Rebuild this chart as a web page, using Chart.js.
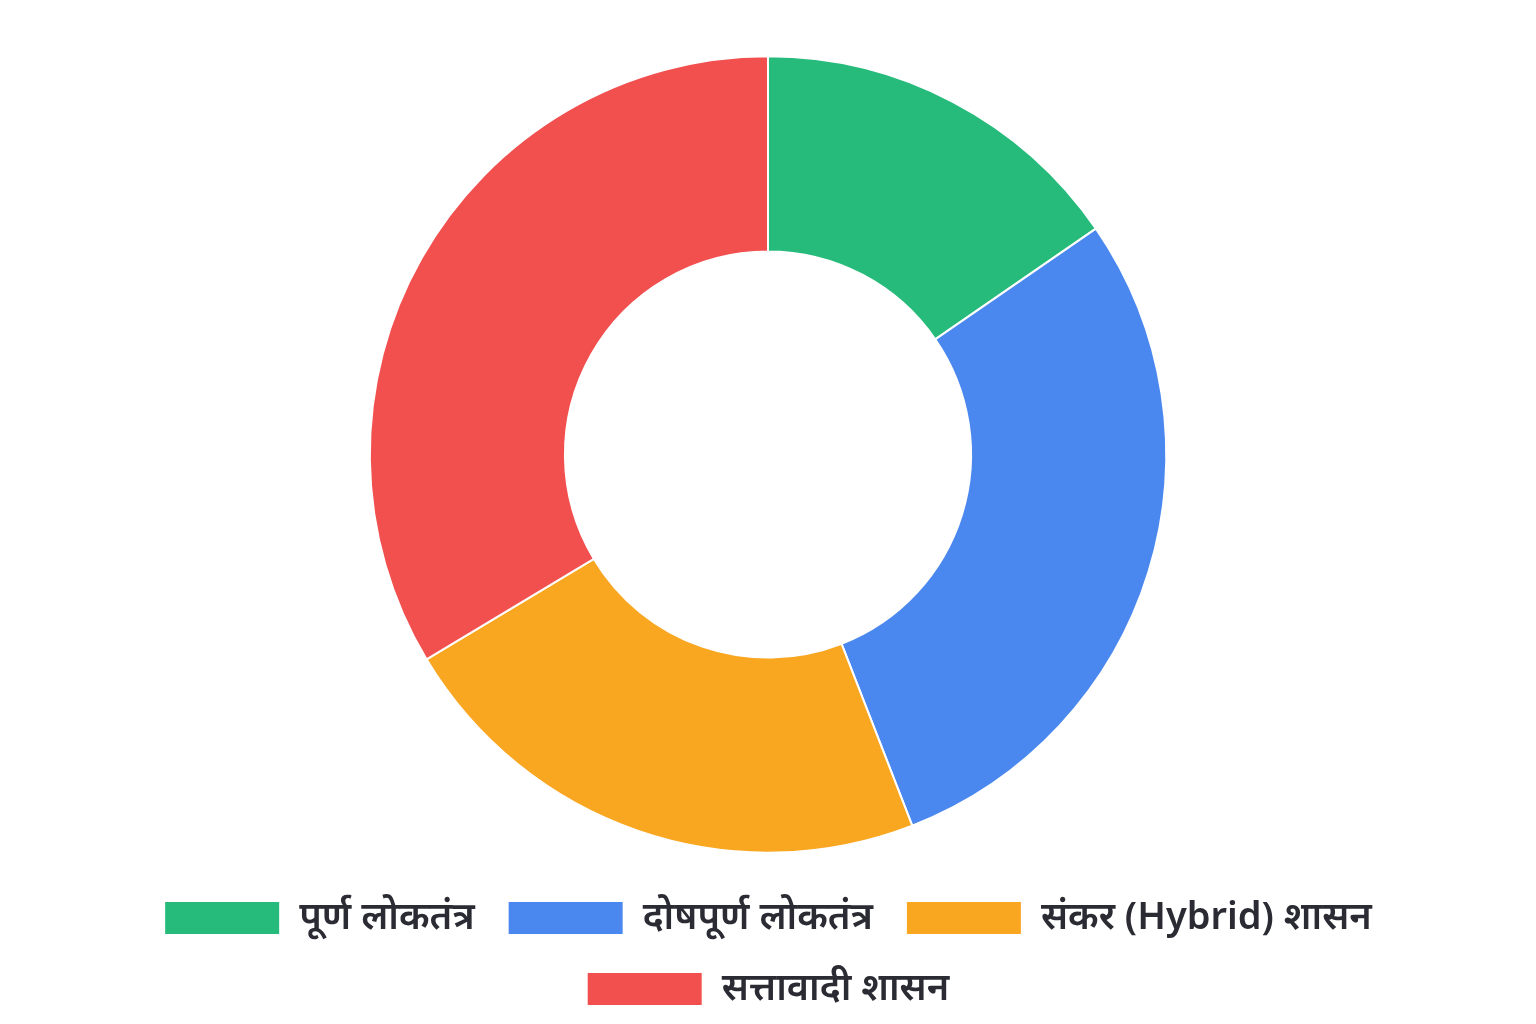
<!DOCTYPE html>
<html>
<head>
<meta charset="utf-8">
<script src="https://cdn.jsdelivr.net/npm/chart.js@4.4.1/dist/chart.umd.min.js"></script>
<style>
  html, body { margin: 0; padding: 0; background: #ffffff; }
  #wrap { width: 1536px; height: 1024px; }
</style>
</head>
<body>
<div id="wrap"><canvas id="regimeChart"></canvas></div>
<script>
const labels = ['पूर्ण लोकतंत्र', 'दोषपूर्ण लोकतंत्र', 'संकर (Hybrid) शासन', 'सत्तावादी शासन'];
const shares = [15.4, 28.7, 22.3, 33.6];
const colors = ['#26bb7b', '#4a88f0', '#f9a620', '#f24f4f'];

const ctx = document.getElementById('regimeChart').getContext('2d');

new Chart(ctx, {
    type: 'doughnut',
    data: {
        labels: labels,
        datasets: [{
            data: shares,
            backgroundColor: colors,
            borderColor: '#ffffff',
            borderWidth: 2,
            hoverOffset: 0
        }]
    },
    options: {
        responsive: true,
        maintainAspectRatio: false,
        animation: false,
        cutout: '51%',
        radius: '97%',
        layout: {
            padding: { top: 43, bottom: 6 }
        },
        plugins: {
            legend: {
                position: 'bottom',
                labels: {
                    boxWidth: 116,
                    boxHeight: 34,
                    padding: 33,
                    color: '#2b2b33',
                    font: {
                        family: '"Noto Sans", sans-serif',
                        size: 38,
                        weight: '600'
                    }
                }
            },
            tooltip: {
                enabled: true
            }
        }
    }
});
</script>
</body>
</html>
